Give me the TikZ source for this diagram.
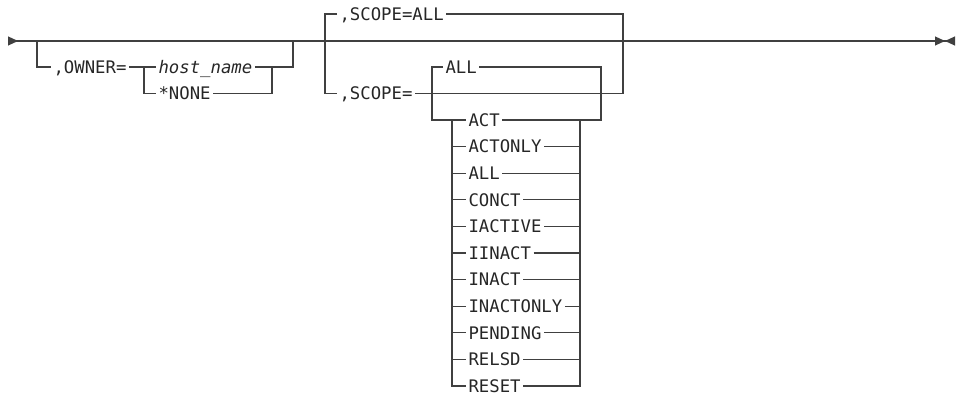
\documentclass[tikz,border=0pt]{standalone}
\usepackage{fontspec}
\newfontfamily\synfont{DejaVu Sans Mono}
\usetikzlibrary{arrows.meta}

\begin{document}
\begin{tikzpicture}[x=1pt, y=-1pt, line width=1.1pt, draw=black!75,
  every node/.style={font=\synfont\fontsize{17.3}{20}\selectfont, text=black!85, anchor=west,
    inner xsep=2pt, inner ysep=0pt, text height=12.6pt, text depth=0pt}]
  \useasboundingbox (0,0) rectangle (962,395);

  % main line
  \coordinate (start) at (8,41);
  \coordinate (stop) at (955,41);
  \draw[{Triangle[reversed,length=10pt,width=9pt]}-{Triangle[length=10pt,width=9pt]Triangle[reversed,length=10pt,width=9pt]}] (start) -- (stop);

  % OWNER (optional)
  \coordinate (o1) at (37,41);
  \coordinate (o2) at (293,41);
  \coordinate (h1) at (144,67);
  \coordinate (h2) at (272,67);
  \node (owner) at (51,67) {,OWNER=};
  \node (host) at (156,67) {\itshape host\_name};
  \node (none) at (156,93.5) {*NONE};
  \draw (o1) |- (owner.west);
  \draw (owner.east) -- (host.west);
  \draw (h1) |- (none.west);
  \draw (host.east) -| (o2);
  \draw (none.east) -| (h2);

  % SCOPE (default above)
  \coordinate (s1) at (325,41);
  \coordinate (s2) at (623,41);
  \node (dflt) at (337,14) {,SCOPE=ALL};
  \node (scope) at (337,93.5) {,SCOPE=};
  \draw (dflt.west) -| (s1) |- (scope.west);
  \draw (dflt.east) -| (s2);
  \draw (scope.east) -| (s2);

  % SCOPE values
  \coordinate (i1) at (432,93.5);
  \coordinate (i2) at (601,93.5);
  \node (all) at (443,67) {ALL};
  \coordinate (l1) at (452,120);
  \coordinate (l2) at (580,120);
  \foreach \val [count=\k from 0] in {ACT,ACTONLY,ALL,CONCT,IACTIVE,IINACT,INACT,INACTONLY,PENDING,RELSD,RESET}
    \node (v\k) at (466,{120+26.6*\k}) {\val};
  \draw (all.west) -| (i1) |- (v0.west);
  \draw (all.east) -| (i2) |- (v0.east);
  \foreach \k in {0,...,10} {
    \draw (l1) |- (v\k.west);
    \draw (v\k.east) -| (l2);
  }
\end{tikzpicture}
\end{document}
